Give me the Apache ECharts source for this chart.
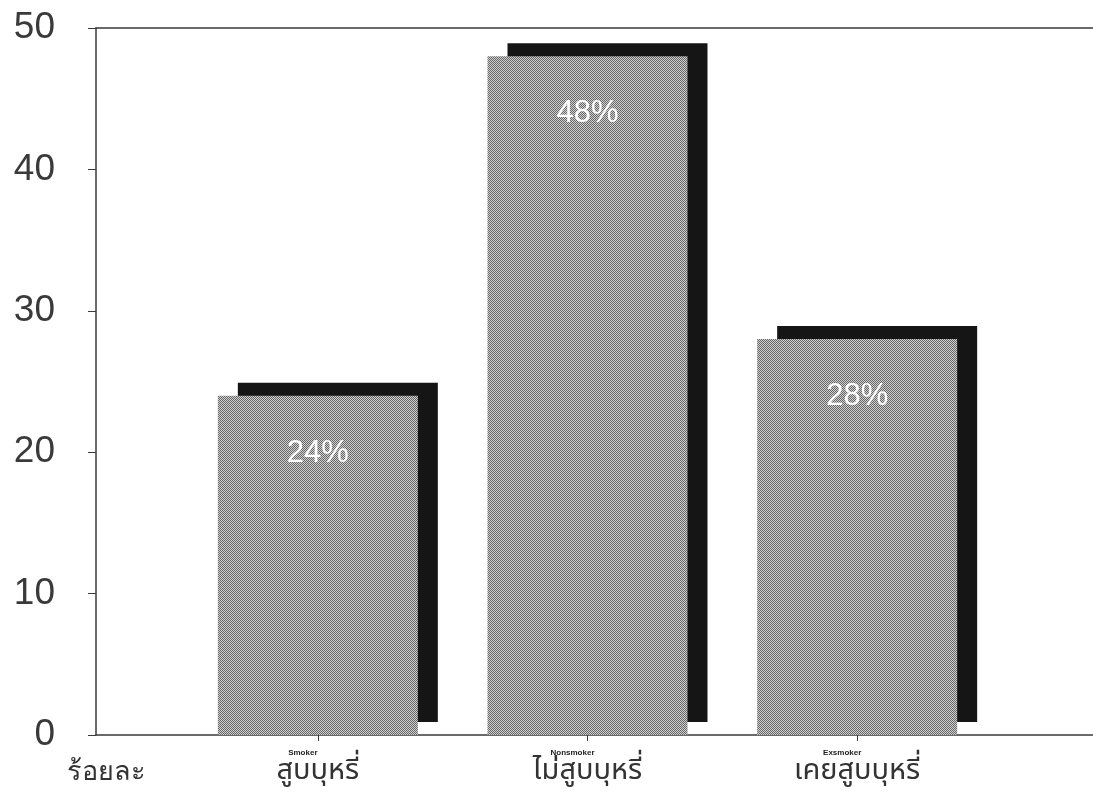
<!DOCTYPE html>
<html>
<head>
<meta charset="utf-8">
<script src="https://cdn.jsdelivr.net/npm/echarts@6/dist/echarts.min.js"></script>
<style>
  html, body { margin: 0; padding: 0; background: #fff; }
  #chart { width: 1093px; height: 796px; }
</style>
</head>
<body>
<div id="chart"></div>
<script>
const categories = ['สูบบุหรี่', 'ไม่สูบบุหรี่', 'เคยสูบบุหรี่'];
const subLabels = ['Smoker', 'Nonsmoker', 'Exsmoker'];
const values = [24, 48, 28];
const yTicks = [0, 10, 20, 30, 40, 50];

const myChart = echarts.init(document.getElementById('chart'));

// dotted grey fill like the scanned hatching
const pat = document.createElement('canvas');
pat.width = 2;
pat.height = 2;
const ctx = pat.getContext('2d');
ctx.fillStyle = '#d0d0d0';
ctx.fillRect(0, 0, 2, 2);
ctx.fillStyle = '#666';
ctx.fillRect(0, 0, 1, 1);
ctx.fillRect(1, 1, 1, 1);

const font = '"Liberation Sans", Arial, sans-serif';
const axisColor = '#3a3a3a';

let options = {
  animation: false,
  grid: [
    { left: 96, right: 0, top: 28, bottom: 61 },
    { left: 183, right: 101, top: 28, bottom: 61 }
  ],
  xAxis: [
    {
      gridIndex: 0, type: 'value', min: 0, max: 1,
      axisLine: { show: true, onZero: false, lineStyle: { color: axisColor, width: 1.5 } },
      axisTick: { show: false }, axisLabel: { show: false }, splitLine: { show: false }
    },
    {
      gridIndex: 0, type: 'value', min: 0, max: 1, position: 'top',
      axisLine: { show: true, onZero: false, lineStyle: { color: axisColor, width: 1.5 } },
      axisTick: { show: false }, axisLabel: { show: false }, splitLine: { show: false }
    },
    {
      gridIndex: 1, type: 'category', data: categories,
      axisLine: { show: false },
      axisTick: { show: true, alignWithLabel: true, length: 6, lineStyle: { color: axisColor } },
      axisLabel: {
        margin: 13,
        formatter: function (v, i) {
          return '{s|' + subLabels[i] + '}\n{t|' + v + '}';
        },
        rich: {
          s: { fontSize: 8, fontWeight: 'bold', color: '#222', fontFamily: font, lineHeight: 10, padding: [0, 30, 0, 0] },
          t: { fontSize: 29, color: '#333', lineHeight: 30, fontFamily: '"Noto Sans Thai", "Noto Sans", sans-serif' }
        }
      }
    }
  ],
  yAxis: [
    {
      gridIndex: 0, type: 'value', min: 0, max: 50, interval: 10,
      name: 'ร้อยละ', nameLocation: 'start', nameGap: 24,
      nameTextStyle: { fontSize: 27, color: '#333', align: 'center', verticalAlign: 'top', padding: [0, 0, 0, 20] },
      axisLine: { show: true, lineStyle: { color: axisColor, width: 1.5 } },
      axisTick: { show: true, length: 8, lineStyle: { color: axisColor } },
      axisLabel: {
        fontSize: 37, color: '#3a3a3a', margin: 41, fontFamily: font,
        formatter: function (v) { return yTicks.indexOf(v) >= 0 ? String(v) : ''; }
      },
      splitLine: { show: false }
    },
    {
      gridIndex: 1, type: 'value', min: 0, max: 50, interval: 10, show: false
    }
  ],
  series: [{
    type: 'bar',
    xAxisIndex: 2,
    yAxisIndex: 1,
    data: values,
    barWidth: 200,
    itemStyle: {
      color: { image: pat, repeat: 'repeat' },
      shadowColor: '#151515',
      shadowBlur: 0,
      shadowOffsetX: 20,
      shadowOffsetY: -13
    },
    label: {
      show: true,
      position: 'insideTop',
      distance: 42,
      color: '#fff',
      fontSize: 31,
      fontFamily: font,
      formatter: '{c}%'
    }
  }]
};

myChart.setOption(options);
</script>
</body>
</html>
